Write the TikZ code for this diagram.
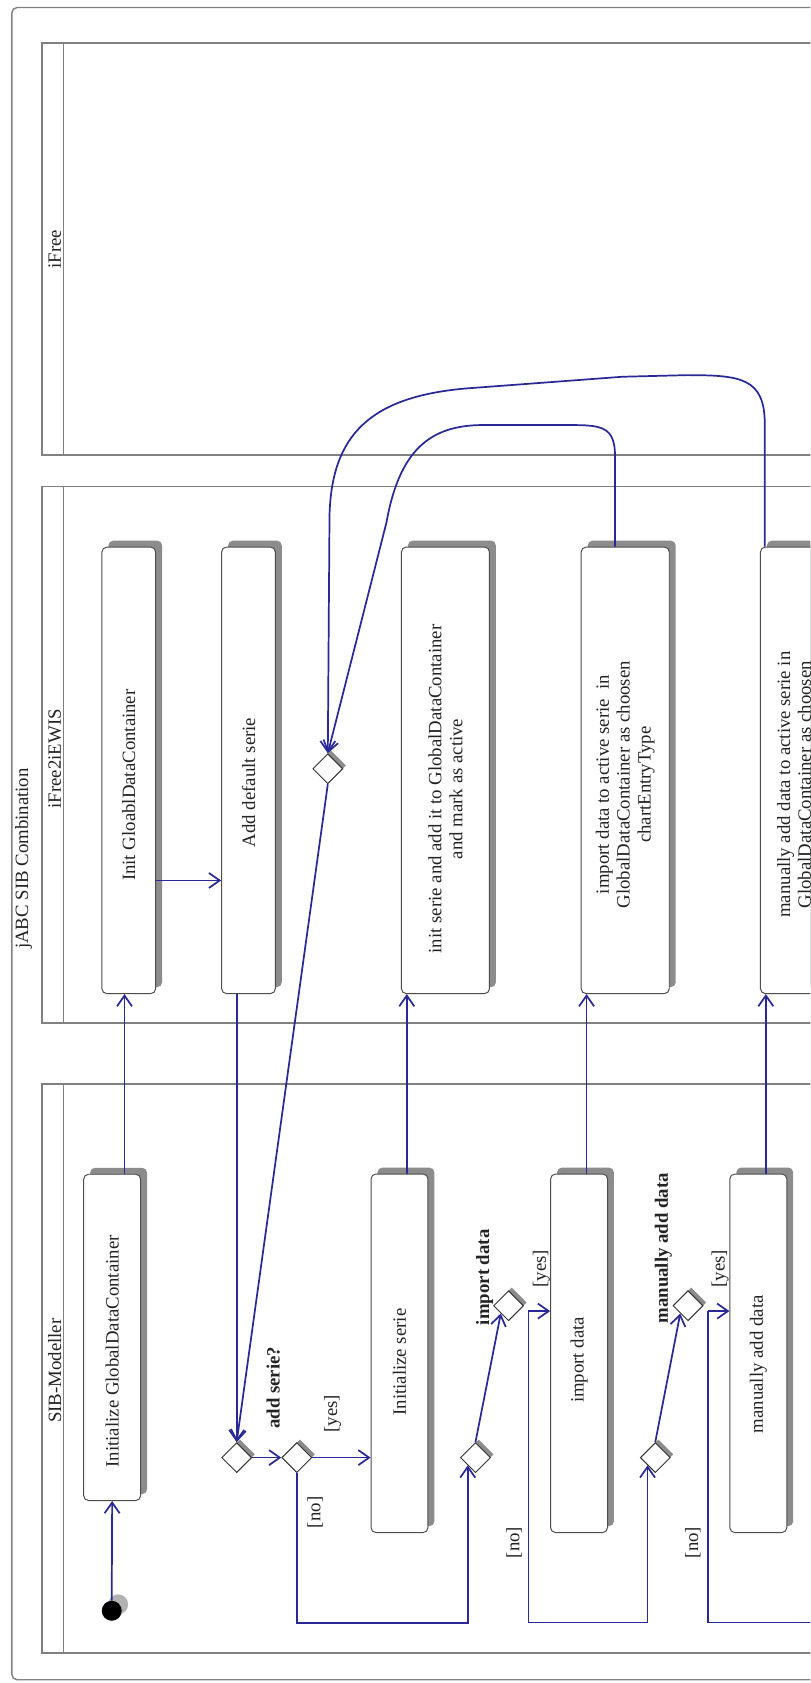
\documentclass[tikz,border=0pt]{standalone}
\usepackage{fontspec}
\setmainfont{Liberation Serif}
\usetikzlibrary{arrows.meta,shapes.geometric,shadows,calc}

\definecolor{flowblue}{RGB}{40,40,150}
\definecolor{lanegray}{RGB}{128,128,128}
\definecolor{shadowgray}{RGB}{140,140,140}
\definecolor{inkgray}{RGB}{35,35,35}

\tikzset{
  lane/.style={draw=lanegray, line width=1.3pt},
  actbox/.style={draw=black!70, line width=0.9pt, fill=white, rounded corners=4.5pt,
    inner sep=0pt,
    drop shadow={shadow xshift=6pt, shadow yshift=6pt, fill=shadowgray, opacity=1}},
  acttext/.style={rotate=90, align=center, text=inkgray, inner sep=0pt},
  decision/.style={diamond, draw=black!80, line width=0.9pt, fill=white,
    minimum width=28pt, minimum height=28pt, inner sep=0pt,
    drop shadow={shadow xshift=3pt, shadow yshift=3pt, fill=shadowgray, opacity=1}},
  guard/.style={rotate=90, text=inkgray, inner sep=0pt},
  question/.style={rotate=90, text=inkgray, inner sep=0pt,
    font=\fontsize{17.5}{19.5}\selectfont\bfseries},
  flow/.style={draw=flowblue, line width=1.6pt,
    -{Straight Barb[length=10pt,width=14pt]}},
  link/.style={draw=flowblue, line width=1.6pt},
}

\begin{document}
\begin{tikzpicture}[x=1pt, y=-1pt, font=\fontsize{17.5}{19.5}\selectfont]
\useasboundingbox (0,0) rectangle (755,1568);
\clip (0,0) rectangle (755,1568);
\fill[white] (0,0) rectangle (755,1568);

% outer frame of the combination
\draw[lane, rounded corners=5pt] (900,7) -- (11,7) -- (11,1565) -- (900,1565);
\node[guard] (title) at (22,800) {jABC SIB Combination};

% swim lanes
\draw[lane] (900,40) -- (39,40) -- (39,424) -- (900,424);
\draw[lane] (59,40) -- (59,424);
\node[guard] (laneA) at (51,232) {iFree};

\draw[lane] (900,453) -- (39,453) -- (39,953) -- (900,953);
\draw[lane] (59,453) -- (59,953);
\node[guard] (laneB) at (51,707) {iFree2iEWIS};

\draw[lane] (900,1010) -- (39,1010) -- (39,1540) -- (900,1540);
\draw[lane] (59,1010) -- (59,1540);
\node[guard] (laneC) at (51,1277) {SIB-Modeller};

% activities of iFree2iEWIS
\node[actbox, minimum width=50pt, minimum height=416pt] (b1) at (120,717.7) {};
\node[acttext] (b1t) at (120,731.5) {Init GloablDataContainer};
\node[actbox, minimum width=50pt, minimum height=416pt] (b2) at (231.5,717.7) {};
\node[acttext] (b2t) at (231.5,729) {Add default serie};
\node[actbox, minimum width=82pt, minimum height=416pt] (b3) at (415,717.7) {};
\node[acttext] (b3t) at (415,735) {init serie and add it to GlobalDataContainer\\and mark as active};
\node[actbox, minimum width=82pt, minimum height=416pt] (b4) at (582.5,717.7) {};
\node[acttext] (b4t) at (582.5,731) {import data to active serie\ \ in\\GlobalDataContainer as choosen\\chartEntryType};
\node[actbox, minimum width=82pt, minimum height=416pt] (b5) at (749.5,717.7) {};
\node[acttext] (b5t) at (739.8,731) {manually add data to active serie in\\GlobalDataContainer as choosen};

% activities of SIB-Modeller
\node[actbox, minimum width=53pt, minimum height=304pt] (s1) at (104.5,1246) {};
\node[acttext] (s1t) at (104.5,1259) {Initialize GlobalDataContainer};
\node[actbox, minimum width=53pt, minimum height=334pt] (s2) at (372.2,1260.8) {};
\node[acttext] (s2t) at (372.2,1269) {Initialize serie};
\node[actbox, minimum width=53pt, minimum height=334pt] (s3) at (539.5,1260.8) {};
\node[acttext] (s3t) at (539.5,1267) {import data};
\node[actbox, minimum width=53pt, minimum height=334pt] (s4) at (706.5,1260.8) {};
\node[acttext] (s4t) at (706.5,1271) {manually add data};

% initial node
\node[circle, fill=black, minimum size=18.6pt, inner sep=0pt,
  drop shadow={shadow xshift=6pt, shadow yshift=6pt, fill=black!30, opacity=1}] (start) at (104.1,1500.7) {};

% decision and merge nodes
\node[decision] (d0) at (305.4,716.2) {};
\node[decision] (d1) at (220.5,1358) {};
\node[decision] (d2) at (276.5,1358) {};
\node[decision] (d3) at (443,1358) {};
\node[decision] (d4) at (473.8,1216.5) {};
\node[decision] (d5) at (610.5,1358) {};
\node[decision] (d6) at (641,1216.5) {};

\node[question] (q1) at (254.5,1293) {add serie?};
\node[question] (q2) at (451.5,1190) {import data};
\node[question] (q3) at (618,1163) {manually add data};

\node[guard] (g1) at (310,1317) {[yes]};
\node[guard] (g2) at (293.5,1409) {[no]};
\node[guard] (g3) at (504.5,1182) {[yes]};
\node[guard] (g4) at (479,1437) {[no]};
\node[guard] (g5) at (671,1182) {[yes]};
\node[guard] (g6) at (645.5,1437) {[no]};

% branch points of the guarded flows
\coordinate (p4) at ($(d4.east)+(4,5)$);
\coordinate (p6) at ($(d6.east)+(4,5)$);
\coordinate (exit) at (800,1511.5);

% control flow
\draw[flow] (start.north) -- (s1.south);
\draw[flow] ([xshift=11.5pt]s1.north) -- ([xshift=-4pt]b1.south);
\draw[flow] ([yshift=-102.6pt]b1.east) -- ([yshift=-102.6pt]b2.west);
\draw[flow] ([xshift=-11pt]b2.south) -- (d1.north);
\draw[flow] (d0.south) -- (d1.north);
\draw[flow] (d1.east) -- (d2.west);
\draw[flow] (d2.east) -- (d2.east -| s2.west);
\draw[flow] (d2.south) -- ++(0,139.6) -| (d3.south west);
\draw[flow] (d3.north) -- (d4.south west);
\draw[flow] (p4) -- (p4 -| s3.west);
\draw[flow] (p4) -- ++(0,290) -| (d5.south west);
\draw[flow] (d5.north) -- (d6.south west);
\draw[flow] (p6) -- (p6 -| s4.west);
\draw[link] (p6) -- ++(0,290) -- (exit);

\draw[flow] ([xshift=6.8pt]s2.north) -- ([xshift=-36pt]b3.south);
\draw[flow] ([xshift=7pt]s3.north) -- ([xshift=-36pt]b4.south);
\draw[flow] ([xshift=7pt]s4.north) -- ([xshift=-36pt]b5.south);

% returns through the iFree lane
\draw[flow] ([xshift=-9.5pt]b4.north) -- (573,425)
  .. controls (573,397) and (560,396) .. (530,396) -- (450,396)
  .. controls (400,396) and (372,420) .. (360,487) -- (d0.north);
\draw[flow] ([xshift=-37pt]b5.north) -- (712.5,395)
  .. controls (712.5,352) and (690,349.5) .. (640,349.5) -- (580,351) -- (433,362)
  .. controls (345,370) and (309,405) .. (307,480) -- (d0.north);
\end{tikzpicture}
\end{document}
